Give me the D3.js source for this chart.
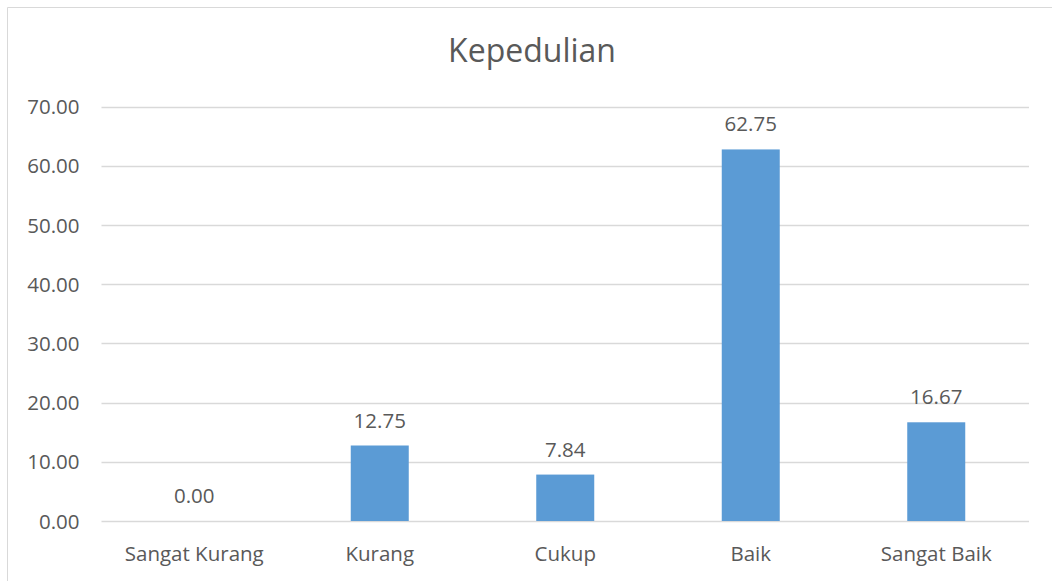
<!DOCTYPE html>
<html><head><meta charset="utf-8">
<script src="https://cdn.jsdelivr.net/npm/d3@7"></script>
<style>html,body{margin:0;padding:0;background:#fff;}svg{display:block;}</style>
</head><body>
<svg id="chart" width="1052" height="581"></svg>
<script>
const categories = ["Sangat Kurang", "Kurang", "Cukup", "Baik", "Sangat Baik"];
const values = [0.00, 12.75, 7.84, 62.75, 16.67];
const yTicks = [0, 10, 20, 30, 40, 50, 60, 70];
const title = "Kepedulian";

const svg = d3.select("#chart");
const font = "'Open Sans', sans-serif";
const textColor = "#595959";

// chart border (left & top visible)
svg.append("path").attr("d", "M7.5,581 V7.5 H1052").attr("fill", "none").attr("stroke", "#d9d9d9").attr("stroke-width", 1);

const x = d3.scaleBand().domain(categories).range([101.5, 1029]).paddingInner(0.685).paddingOuter(0.3425);
const y = d3.scaleLinear().domain([0, 70]).range([521, 106.5]);

svg.append("text").attr("x", 532).attr("y", 62).attr("text-anchor", "middle")
  .attr("font-family", font).attr("font-size", 32).attr("fill", textColor).text(title);

const grid = svg.append("g");
grid.selectAll("line").data(yTicks).join("line")
  .attr("x1", 101.5).attr("x2", 1029)
  .attr("y1", d => Math.round(y(d)) + 0.5).attr("y2", d => Math.round(y(d)) + 0.5)
  .attr("stroke", "#d9d9d9").attr("stroke-width", 1.3);

const yAxis = d3.axisLeft(y).tickValues(yTicks).tickFormat(d3.format(".2f")).tickSize(0).tickPadding(22);
const ya = svg.append("g").attr("transform", "translate(101.5,0)").call(yAxis);
ya.select(".domain").remove();
ya.selectAll("text").attr("font-family", font).attr("font-size", 20.5).attr("fill", textColor).attr("dy", "0.35em");

const bw = 58;
svg.append("g").selectAll("rect").data(values).join("rect")
  .attr("x", (d, i) => x(categories[i]) + x.bandwidth() / 2 - bw / 2)
  .attr("width", bw)
  .attr("y", d => y(d))
  .attr("height", d => y(0) - y(d))
  .attr("fill", "#5b9bd5");

svg.append("g").selectAll("text").data(values).join("text")
  .attr("x", (d, i) => x(categories[i]) + x.bandwidth() / 2)
  .attr("y", d => y(d) - 18)
  .attr("text-anchor", "middle")
  .attr("font-family", font).attr("font-size", 20.5).attr("fill", textColor)
  .text(d => d3.format(".2f")(d));

const xAxis = d3.axisBottom(x).tickSize(0).tickPadding(0);
const xa = svg.append("g").attr("transform", "translate(0,521)").call(xAxis);
xa.select(".domain").remove();
xa.selectAll("text").attr("font-family", font).attr("font-size", 20.5).attr("fill", textColor).attr("dy", null).attr("y", 40);
</script>
</body></html>
